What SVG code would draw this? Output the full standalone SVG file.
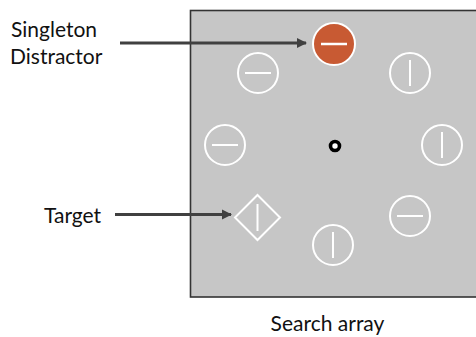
<svg xmlns="http://www.w3.org/2000/svg" width="476" height="337" viewBox="0 0 476 337">
  <style>
    .lbl { font-family: Lato, "Open Sans", sans-serif; font-size: 21px; fill: #111; }
    .item { fill: none; stroke: #fff; stroke-width: 2; }
    .conn { stroke: #404040; stroke-width: 3; fill: none; }
  </style>
  <defs>
    <marker id="arrow" viewBox="0 0 10 10" refX="9" refY="5" markerWidth="3.4" markerHeight="3.4" orient="auto" markerUnits="strokeWidth">
      <path d="M0,0 L10,5 L0,10 Z" fill="#404040"/>
    </marker>
    <filter id="soft" x="-50%" y="-50%" width="200%" height="200%">
      <feGaussianBlur stdDeviation="0.7"/>
    </filter>
    <g id="hbar"><circle class="item" r="20"/><line class="item" x1="-13" y1="0" x2="13" y2="0"/></g>
    <g id="vbar"><circle class="item" r="20"/><line class="item" x1="0" y1="-13" x2="0" y2="13"/></g>
  </defs>

  <rect width="476" height="337" fill="#fff"/>

  <!-- display panel -->
  <g id="panel">
    <rect x="190.5" y="10.5" width="300" height="286.5" fill="#c6c6c6" stroke="#333" stroke-width="1.6"/>
  </g>

  <g id="singleton">
    <circle cx="334" cy="44" r="21" fill="#c85a33" stroke="#fff" stroke-width="2"/>
    <line x1="321" y1="44" x2="347" y2="44" stroke="#fff" stroke-width="2.5"/>
  </g>
  <g id="d-topleft"><use href="#hbar" x="258" y="73"/></g>
  <g id="d-topright"><use href="#vbar" x="410" y="73"/></g>
  <g id="d-left"><use href="#hbar" x="225" y="145"/></g>
  <g id="d-right"><use href="#vbar" x="442" y="145"/></g>
  <g id="d-bottomright"><use href="#hbar" x="410" y="216"/></g>
  <g id="d-bottom"><use href="#vbar" x="333" y="245"/></g>
  <g id="target">
    <path class="item" d="M257.5,195 L280,217.5 L257.5,240 L235,217.5 Z"/>
    <line class="item" x1="257.5" y1="204" x2="257.5" y2="231"/>
  </g>
  <g id="fixation" filter="url(#soft)">
    <circle cx="335" cy="146" r="4.5" fill="#fff" stroke="#000" stroke-width="3.6"/>
  </g>

  <g id="labels">
    <text class="lbl" x="11" y="37">Singleton</text>
    <text class="lbl" x="10" y="64">Distractor</text>
    <text class="lbl" x="44" y="223">Target</text>
    <text class="lbl" x="327.5" y="331" text-anchor="middle" font-size="23">Search array</text>
  </g>

  <g id="connectors">
    <line class="conn" x1="120" y1="43" x2="306" y2="43" marker-end="url(#arrow)"/>
    <line class="conn" x1="115" y1="214.5" x2="231" y2="214.5" marker-end="url(#arrow)"/>
  </g>
</svg>
